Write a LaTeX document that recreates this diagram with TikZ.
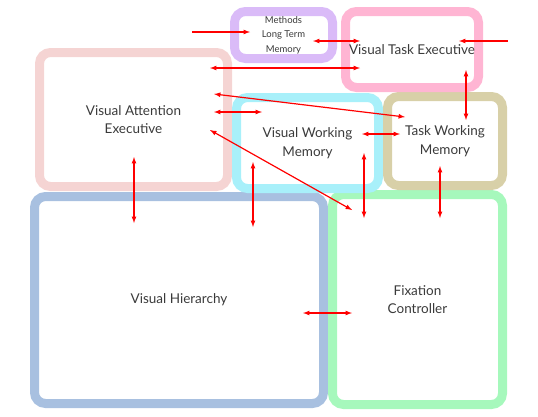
\documentclass[tikz,border=0pt]{standalone}
\usepackage{fontspec}
\setmainfont{Lato}
\usetikzlibrary{arrows}
\definecolor{methodscol}{HTML}{DABBF8}
\definecolor{vtecol}{HTML}{FFB5D3}
\definecolor{vaecol}{HTML}{F5D4D3}
\definecolor{vwmcol}{HTML}{A8F0FA}
\definecolor{twmcol}{HTML}{D8D0A8}
\definecolor{vhcol}{HTML}{A8C0E0}
\definecolor{fccol}{HTML}{A6F8BC}
\definecolor{textcol}{HTML}{3A3A3A}
\begin{document}
\begin{tikzpicture}[x=1pt,y=-1pt]

\tikzset{box/.style = {draw=#1, line width=9pt, rounded corners=11pt, align=center, text=textcol, font=\fontsize{13.5}{18.5}\selectfont}}
\tikzset{edge/.style = {<->, > = latex, draw=red, line width=1.2pt}}

\useasboundingbox (0,0) rectangle (538,416);

%boxes
\node[box=vhcol, minimum width=289pt, minimum height=207pt] (vh) at (179,300) {Visual Hierarchy};
\node[box=fccol, minimum width=170pt, minimum height=210pt] (fc) at (417.5,299.5) {Fixation\\Controller};
\node[box=vaecol, minimum width=188pt, minimum height=134pt] (vae) at (133.5,119.5) {Visual Attention\\Executive};
\node[box=vwmcol, minimum width=142pt, minimum height=91pt] (vwm) at (307.5,143) {Visual Working\\Memory};
\node[box=twmcol, minimum width=115pt, minimum height=89pt] (twm) at (445,141) {Task Working\\Memory};
\node[box=methodscol, minimum width=98pt, minimum height=47pt, font=\fontsize{9.5}{14.5}\selectfont] (mltm) at (283.5,35) {Methods\\Long Term\\Memory};
\node[box=vtecol, minimum width=133pt, minimum height=76pt] (vte) at (412,49.5) {Visual Task Executive};

%arrow ends
\coordinate (src1) at (192,32);
\coordinate (mltm1) at (250,32);
\coordinate (mltm2) at (313,41);
\coordinate (vte1) at (360,41);
\coordinate (src2) at (508,41);
\coordinate (vte2) at (459,41);
\coordinate (vae1) at (210,68);
\coordinate (vte3) at (360,68);
\coordinate (vae2) at (214,94);
\coordinate (twm1) at (405,117);
\coordinate (vae3) at (214,112);
\coordinate (vwm1) at (262,112);
\coordinate (vae4) at (210,130);
\coordinate (fc1) at (352,210);
\coordinate (vwm2) at (362,134);
\coordinate (twm2) at (400,134);
\coordinate (vte4) at (466,70);
\coordinate (twm3) at (466,120);
\coordinate (vae5) at (134,157);
\coordinate (vh1) at (134,223);
\coordinate (vwm3) at (253,162);
\coordinate (vh2) at (253,227);
\coordinate (vwm4) at (364,153);
\coordinate (fc2) at (364,218);
\coordinate (twm4) at (440,166);
\coordinate (fc3) at (440,218);
\coordinate (vh3) at (303,313);
\coordinate (fc4) at (352,313);

%inputs
\draw[edge, <-] (mltm1) to (src1);
\draw[edge, <-] (vte2) to (src2);

%horizontal edge
\draw[edge] (mltm2) to (vte1);
\draw[edge] (vae1) to (vte3);
\draw[edge] (vae2) to (twm1);
\draw[edge] (vae3) to (vwm1);
\draw[edge] (vae4) to (fc1);
\draw[edge] (vwm2) to (twm2);
\draw[edge] (vh3) to (fc4);

%vertical edge
\draw[edge] (vte4) to (twm3);
\draw[edge] (vae5) to (vh1);
\draw[edge] (vwm3) to (vh2);
\draw[edge] (vwm4) to (fc2);
\draw[edge] (twm4) to (fc3);

\end{tikzpicture}
\end{document}
